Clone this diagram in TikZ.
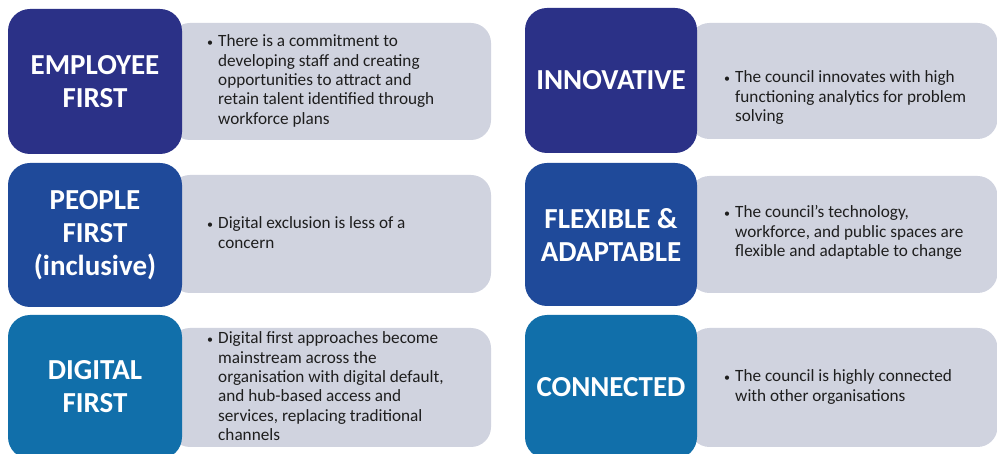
\documentclass[tikz,border=0pt]{standalone}
\usepackage{fontspec}
\setmainfont{Carlito}
\definecolor{navyA}{HTML}{2B3187}
\definecolor{navyB}{HTML}{1F4A9A}
\definecolor{navyC}{HTML}{116FAA}
\definecolor{greyfill}{HTML}{D0D3DF}
\definecolor{bodytext}{HTML}{1E1E1E}
\newcommand{\bodylines}[2]{\begin{minipage}[t]{#1}\hangindent=11pt\hangafter=1\noindent\makebox[11pt][l]{\raisebox{0.5pt}{\fontsize{12}{12}\selectfont•}}#2\end{minipage}}
\begin{document}
\begin{tikzpicture}[x=1pt,y=-1pt,
  titlebox/.style={rounded corners=22pt, inner sep=0pt, text=white,
    font=\fontsize{29}{33}\selectfont\bfseries, align=center},
  greybox/.style={fill=greyfill, rounded corners=20pt, inner sep=0pt},
  bodytxt/.style={anchor=base west, inner sep=0pt, text=bodytext,
    font=\fontsize{17.2}{19.3}\selectfont}]
\useasboundingbox (0,0) rectangle (997,454);
% grey boxes
\node[greybox, minimum width=321pt, minimum height=117pt] (g1) at (330.5,81.5) {};
\node[greybox, minimum width=321pt, minimum height=118pt] (g2) at (330.5,234) {};
\node[greybox, minimum width=321pt, minimum height=119pt] (g3) at (330.5,387.5) {};
\node[greybox, minimum width=308pt, minimum height=116pt] (g4) at (843.5,81) {};
\node[greybox, minimum width=308pt, minimum height=117pt] (g5) at (843.5,234.5) {};
\node[greybox, minimum width=308pt, minimum height=119pt] (g6) at (843.5,387.5) {};
% title boxes
\node[titlebox, fill=navyA, minimum width=174pt, minimum height=145pt] (t1) at (95,81.5) {EMPLOYEE\\FIRST};
\node[titlebox, fill=navyB, minimum width=174pt, minimum height=144pt] (t2) at (95,235) {PEOPLE\\FIRST\\(inclusive)};
\node[titlebox, fill=navyC, minimum width=174pt, minimum height=144pt] (t3) at (95,387) {DIGITAL\\FIRST};
\node[titlebox, fill=navyA, minimum width=172pt, minimum height=145pt] (t4) at (611,80.5) {INNOVATIVE};
\node[titlebox, fill=navyB, minimum width=172pt, minimum height=143pt] (t5) at (611,234.5) {FLEXIBLE \&\\ADAPTABLE};
\node[titlebox, fill=navyC, minimum width=172pt, minimum height=144pt] (t6) at (611,387) {CONNECTED};
% body texts
\node[bodytxt] (b1) at (207,47) {\bodylines{280pt}{There is a commitment to\\developing staff and creating\\opportunities to attract and\\retain talent identified through\\workforce plans}};
\node[bodytxt] (b2) at (207,229) {\bodylines{280pt}{Digital exclusion is less of a\\concern}};
\node[bodytxt] (b3) at (207,344) {\bodylines{280pt}{Digital first approaches become\\mainstream across the\\organisation with digital default,\\and hub-based access and\\services, replacing traditional\\channels}};
\node[bodytxt] (b4) at (724,83) {\bodylines{270pt}{The council innovates with high\\functioning analytics for problem\\solving}};
\node[bodytxt] (b5) at (724,218) {\bodylines{270pt}{The council’s technology,\\workforce, and public spaces are\\flexible and adaptable to change}};
\node[bodytxt] (b6) at (724,382) {\bodylines{270pt}{The council is highly connected\\with other organisations}};
\end{tikzpicture}
\end{document}
